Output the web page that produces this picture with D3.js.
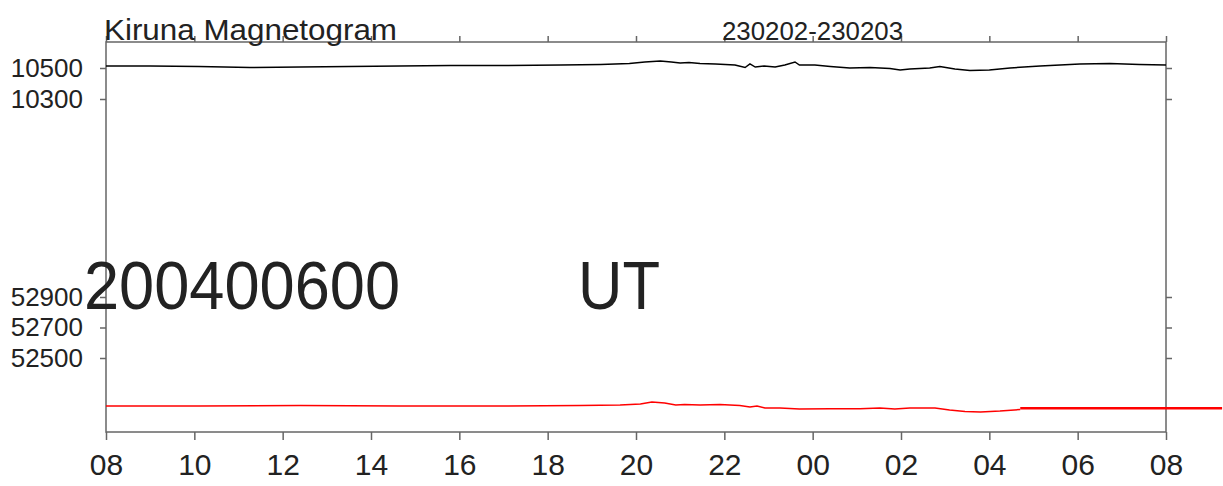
<!DOCTYPE html>
<html>
<head>
<meta charset="utf-8">
<script src="https://cdn.jsdelivr.net/npm/d3@7"></script>
<style>
  body { margin: 0; background: #fff; }
  text { font-family: "Liberation Sans", Arial, sans-serif; fill: #222; }
</style>
</head>
<body>
<svg id="mag" width="1223" height="486"></svg>
<script>
// data: hours since 2023-02-02 08:00 UT, values in nT
var hHours = [0, 1.0, 2.1, 3.26, 4.4, 5.5, 6.65, 7.8, 8.9, 10.3, 11.2, 11.85, 12.2, 12.55, 12.8, 13.0, 13.2, 13.45, 13.8, 14.24, 14.47, 14.58, 14.7, 14.9, 15.15, 15.37, 15.6, 15.7, 16.05, 16.4, 16.84, 17.3, 17.75, 17.98, 18.2, 18.65, 18.88, 19.22, 19.56, 20.0, 20.47, 21.15, 22.05, 22.73, 23.4, 24.0];
var hValues = [10513, 10513, 10510, 10503, 10506, 10510, 10513, 10516, 10516, 10519, 10523, 10529, 10539, 10545, 10539, 10532, 10535, 10529, 10526, 10519, 10503, 10526, 10506, 10513, 10506, 10519, 10539, 10519, 10519, 10510, 10500, 10503, 10497, 10487, 10494, 10500, 10510, 10494, 10484, 10487, 10500, 10513, 10526, 10529, 10523, 10519];

var zHours = [0, 2.1, 4.4, 6.65, 8.9, 10.73, 11.64, 12.1, 12.36, 12.65, 12.9, 13.1, 13.45, 13.9, 14.35, 14.58, 14.74, 14.92, 15.26, 15.7, 16.4, 17.07, 17.52, 17.86, 18.2, 18.77, 19.1, 19.45, 19.8, 20.24, 20.7];
var zValues = [52185, 52185, 52188, 52186, 52185, 52188, 52192, 52198, 52211, 52205, 52192, 52195, 52192, 52195, 52188, 52179, 52185, 52172, 52172, 52165, 52168, 52168, 52172, 52165, 52172, 52172, 52159, 52149, 52146, 52152, 52162];

// flat fill after the Z record stops
var zFlatHours = [20.7, 25.27];
var zFlatValues = [52170, 52170];

var xTickHours = [0, 2, 4, 6, 8, 10, 12, 14, 16, 18, 20, 22, 24];
var hTicks = [10300, 10500];
var zTicks = [52500, 52700, 52900];

var svg = d3.select("svg#mag");
var mLeft = 106, mRight = 1166, mTop = 42, mBottom = 432;
var t0 = Date.UTC(2023, 1, 2, 8);
function toDate(h) { return new Date(t0 + h * 3600000); }

var x = d3.scaleUtc()
          .domain([toDate(0), toDate(24)])
          .range([mLeft, mRight]);

var yH = d3.scaleLinear().domain([10300, 10500]).range([99, 68]);
var yZ = d3.scaleLinear().domain([52500, 52900]).range([358, 297]);

var axisColor = "#666";

// frame
svg.append("rect")
   .attr("x", mLeft).attr("y", mTop)
   .attr("width", mRight - mLeft).attr("height", mBottom - mTop)
   .attr("fill", "none")
   .attr("stroke", axisColor)
   .attr("stroke-width", 1.5);

// bottom axis
var xTicks = xTickHours.map(toDate);
var xAxis = svg.append("g")
   .attr("transform", "translate(0," + mBottom + ")")
   .call(d3.axisBottom(x).tickValues(xTicks).tickFormat(d3.utcFormat("%H")).tickSize(8).tickPadding(14));
xAxis.select(".domain").remove();
xAxis.selectAll("line").attr("stroke", axisColor).attr("stroke-width", 1.5);
xAxis.selectAll("text")
     .attr("font-size", 30)
     .attr("font-family", "Liberation Sans, Arial, sans-serif")
     .attr("fill", "#222");

// top ticks
var xTop = svg.append("g")
   .attr("transform", "translate(0," + mTop + ")")
   .call(d3.axisTop(x).tickValues(xTicks).tickFormat("").tickSize(6));
xTop.select(".domain").remove();
xTop.selectAll("line").attr("stroke", axisColor).attr("stroke-width", 1.5);

// left and right axes for both panels
function yAxes(scale, ticks) {
  var l = svg.append("g")
     .attr("transform", "translate(" + mLeft + ",0)")
     .call(d3.axisLeft(scale).tickValues(ticks).tickFormat(d3.format("d")).tickSize(6).tickPadding(17));
  l.select(".domain").remove();
  l.selectAll("line").attr("stroke", axisColor).attr("stroke-width", 1.5);
  l.selectAll("text")
   .attr("font-size", 26)
   .attr("font-family", "Liberation Sans, Arial, sans-serif")
   .attr("fill", "#222");
  var r = svg.append("g")
     .attr("transform", "translate(" + mRight + ",0)")
     .call(d3.axisRight(scale).tickValues(ticks).tickFormat("").tickSize(6));
  r.select(".domain").remove();
  r.selectAll("line").attr("stroke", axisColor).attr("stroke-width", 1.5);
}
yAxes(yH, hTicks);
yAxes(yZ, zTicks);

// traces
var hLine = d3.line()
   .x(function(d, i) { return x(toDate(hHours[i])); })
   .y(function(d) { return yH(d); });
var zLine = d3.line()
   .x(function(d, i) { return x(toDate(zHours[i])); })
   .y(function(d) { return yZ(d); });
var flatLine = d3.line()
   .x(function(d, i) { return x(toDate(zFlatHours[i])); })
   .y(function(d) { return yZ(d); });

svg.append("path")
   .datum(hValues)
   .attr("d", hLine)
   .attr("fill", "none")
   .attr("stroke", "#000")
   .attr("stroke-width", 1.5);

svg.append("path")
   .datum(zValues)
   .attr("d", zLine)
   .attr("fill", "none")
   .attr("stroke", "#f00")
   .attr("stroke-width", 1.5);

svg.append("path")
   .datum(zFlatValues)
   .attr("d", flatLine)
   .attr("fill", "none")
   .attr("stroke", "#f00")
   .attr("stroke-width", 2.5);

// texts
svg.append("text")
   .attr("x", 104).attr("y", 40)
   .attr("font-size", 29)
   .attr("textLength", 293)
   .attr("lengthAdjust", "spacingAndGlyphs")
   .attr("fill", "#111")
   .text("Kiruna Magnetogram");

svg.append("text")
   .attr("x", 722).attr("y", 40)
   .attr("font-size", 25)
   .attr("textLength", 181)
   .attr("lengthAdjust", "spacingAndGlyphs")
   .attr("fill", "#111")
   .text("230202-230203");

svg.append("text")
   .attr("x", 84).attr("y", 309)
   .attr("font-size", 68)
   .attr("textLength", 316)
   .attr("lengthAdjust", "spacingAndGlyphs")
   .text("200400600");

svg.append("text")
   .attr("x", 578).attr("y", 309)
   .attr("font-size", 68)
   .attr("textLength", 82)
   .attr("lengthAdjust", "spacingAndGlyphs")
   .text("UT");
</script>
</body>
</html>
